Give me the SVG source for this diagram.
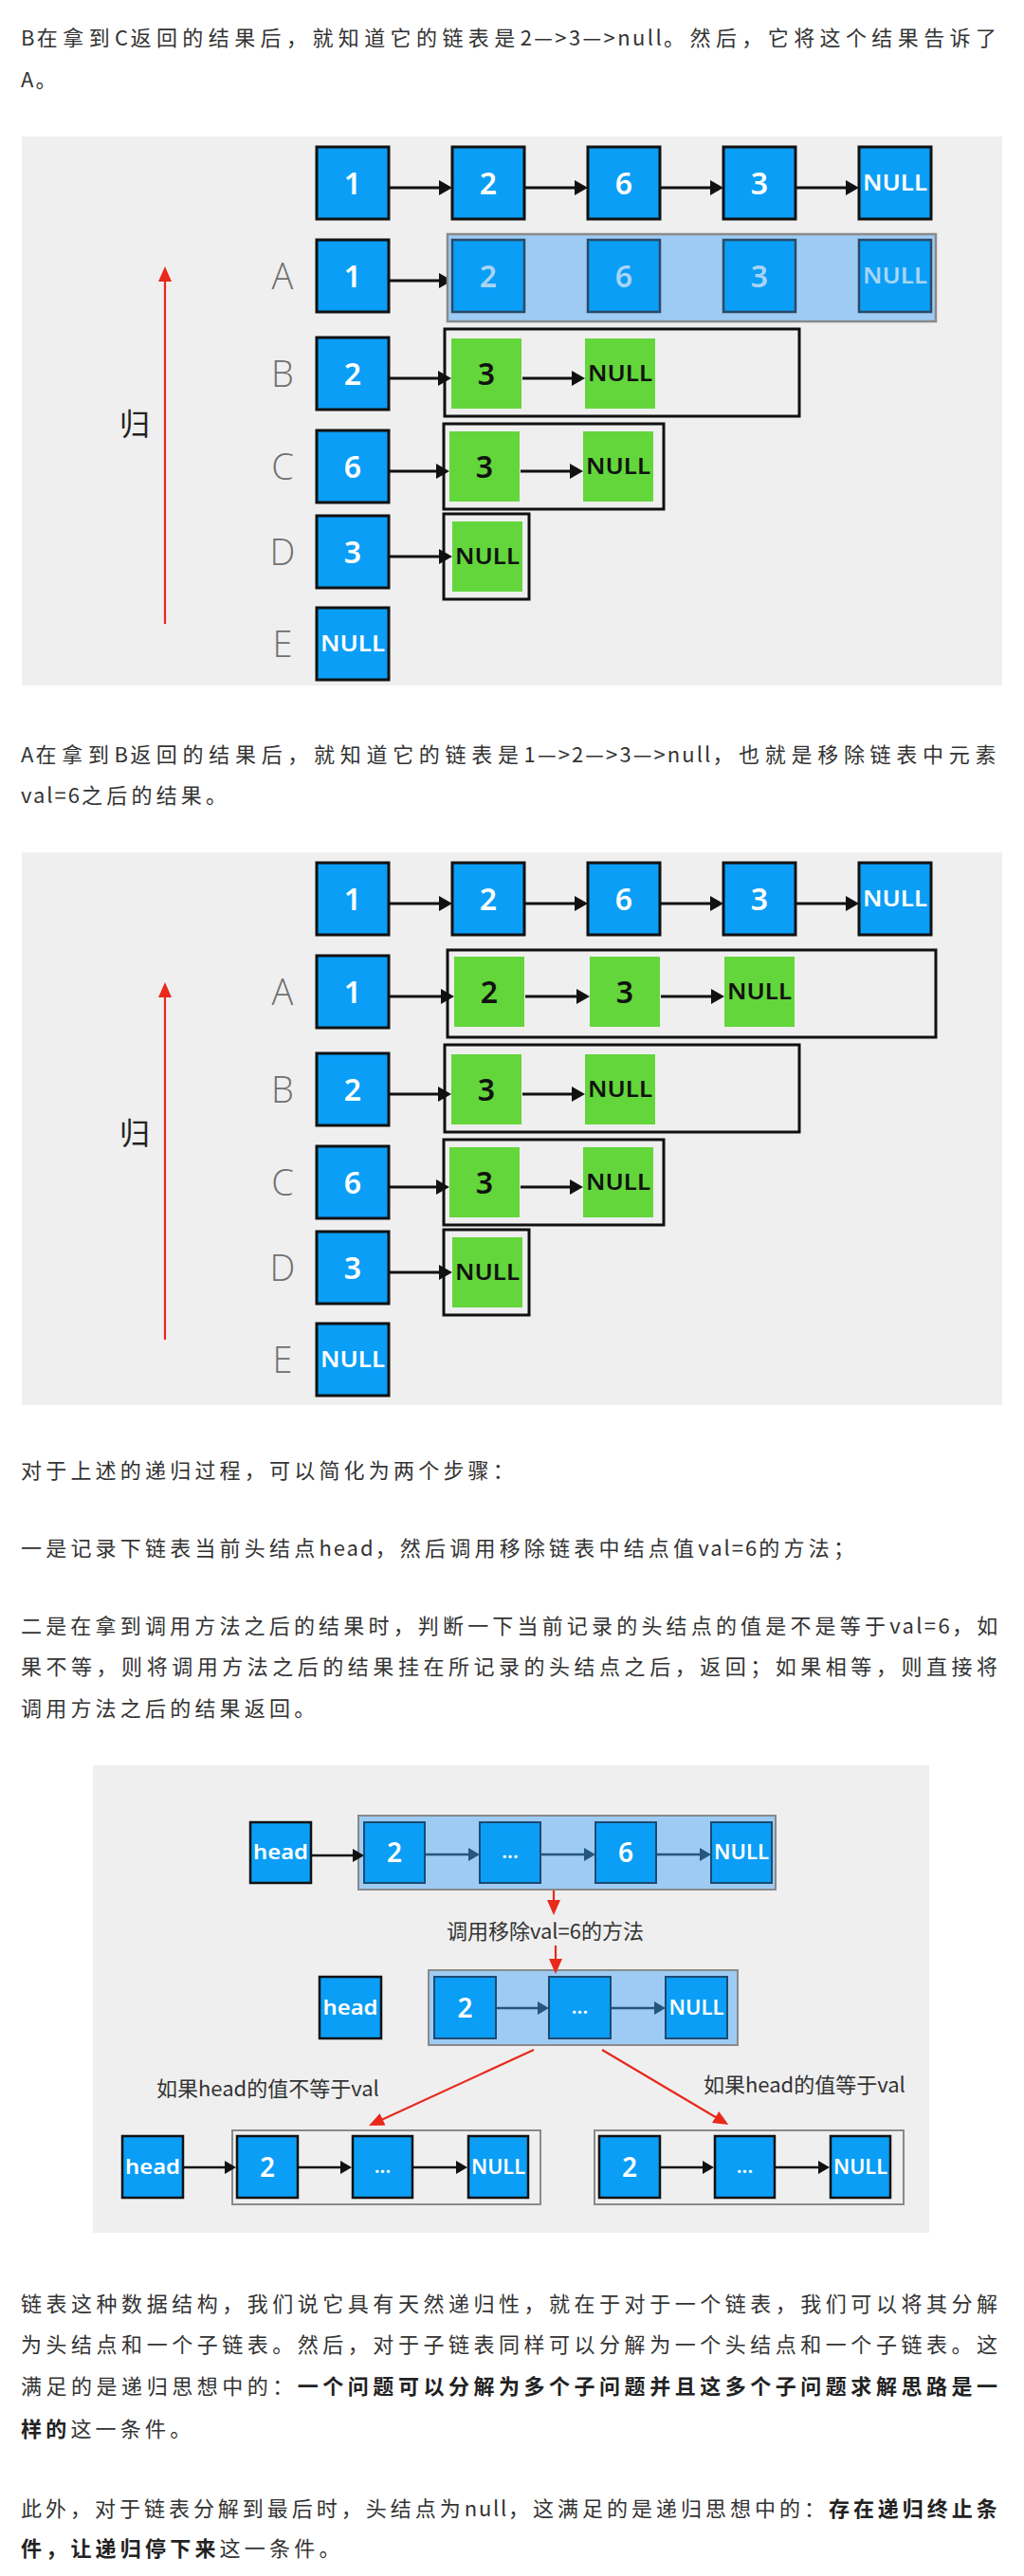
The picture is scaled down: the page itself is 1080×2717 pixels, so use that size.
<svg xmlns="http://www.w3.org/2000/svg" width="1080" height="2717" viewBox="0 0 1080 2717">
<defs>
<style>
.t{font-family:"Noto Sans CJK SC","Noto Sans",sans-serif;font-size:22px;fill:#333;letter-spacing:4.2px}
.l{letter-spacing:2px}
.b{font-weight:bold;fill:#222}
.bg{fill:#efefef}
.blue{fill:#0a9ef6;stroke:#111;stroke-width:3}
.green{fill:#63d63b}
.n{font-family:"Noto Sans","Open Sans",sans-serif;font-weight:600;font-size:32px;fill:#fff;text-anchor:middle}
.k{fill:#111}
.nl{font-size:24px}
.lbl{font-family:"Open Sans","Noto Sans",sans-serif;font-weight:300;font-size:38px;fill:#707070;text-anchor:middle}
.frame{fill:none;stroke:#111;stroke-width:3}
.sel{fill:#9ecbf3;stroke:#8a8a8a;stroke-width:2.5}
.fade{fill:#0a9ef6;stroke:#2b4a66;stroke-width:2.5}
.pale{fill:#a9d4f6}
.arr{stroke:#111;stroke-width:3;fill:none;marker-end:url(#ah)}
.red{stroke:#e8291c;stroke-width:2.2;fill:none;marker-end:url(#rh)}
.dk{stroke:#24567e;stroke-width:2.5;fill:none;marker-end:url(#dh)}
.ar3{stroke:#111;stroke-width:2.5;fill:none;marker-end:url(#ah3)}
.b3{fill:#0a9ef6;stroke:#111;stroke-width:2.5}
.b3f{fill:#0a9ef6;stroke:#1d4a70;stroke-width:2}
.sel3{fill:#9ecbf3;stroke:#8a8a8a;stroke-width:2}
.grp3{fill:none;stroke:#8a8a8a;stroke-width:2}
.n3{font-family:"Noto Sans","Open Sans",sans-serif;font-weight:600;font-size:28px;fill:#fff;text-anchor:middle}
.s3{font-size:21px}
.cap{font-family:"Noto Sans CJK SC","Noto Sans",sans-serif;font-size:22px;fill:#333}
.gui{font-family:"Noto Sans CJK SC",sans-serif;font-size:32px;fill:#222;text-anchor:middle}
</style>
<marker id="ah" markerUnits="userSpaceOnUse" markerWidth="16" markerHeight="18" refX="4" refY="8" orient="auto"><path d="M0,0 L14,8 L0,16 z" fill="#111"/></marker>
<marker id="ah3" markerUnits="userSpaceOnUse" markerWidth="14" markerHeight="16" refX="3" refY="7" orient="auto"><path d="M0,0 L12,7 L0,14 z" fill="#111"/></marker>
<marker id="dh" markerUnits="userSpaceOnUse" markerWidth="14" markerHeight="16" refX="3" refY="7" orient="auto"><path d="M0,0 L12,7 L0,14 z" fill="#24567e"/></marker>
<marker id="rh" markerUnits="userSpaceOnUse" markerWidth="18" markerHeight="16" refX="4" refY="7" orient="auto"><path d="M0,0 L16,7 L0,14 z" fill="#e8291c"/></marker>
</defs>
<rect width="1080" height="2717" fill="#ffffff"/>

<!-- Paragraph 1 -->
<g id="para1">
<text class="t" x="22" y="48" style="letter-spacing:5px" textLength="1034" lengthAdjust="spacing"><tspan class="l">B</tspan>在拿到<tspan class="l">C</tspan>返回的结果后，就知道它的链表是<tspan class="l">2—&gt;3—&gt;null</tspan>。然后，它将这个结果告诉了</text>
<text class="t" x="22" y="92"><tspan class="l">A</tspan>。</text>
</g>

<!-- Diagram 1 -->
<g id="diagram1">
<rect class="bg" x="23" y="144" width="1034" height="579"/>
<g id="d1-connectors">
<line class="arr" x1="411" y1="198" x2="467" y2="198"/>
<line class="arr" x1="554" y1="198" x2="610" y2="198"/>
<line class="arr" x1="697" y1="198" x2="753" y2="198"/>
<line class="arr" x1="840" y1="198" x2="896" y2="198"/>
<line class="arr" x1="411" y1="296" x2="467" y2="296"/>
<line class="arr" x1="411" y1="399" x2="466" y2="399"/>
<line class="arr" x1="551" y1="399" x2="607" y2="399"/>
<line class="arr" x1="411" y1="497" x2="464" y2="497"/>
<line class="arr" x1="549" y1="497" x2="605" y2="497"/>
<line class="arr" x1="411" y1="587" x2="467" y2="587"/>
<line class="red" x1="174" y1="658" x2="174" y2="293"/>
</g>
<text class="gui" x="142" y="459">归</text>
<g id="d1-top-1"><rect class="blue" x="334" y="155" width="76" height="76"/><text class="n" x="372" y="205">1</text></g>
<g id="d1-top-2"><rect class="blue" x="477" y="155" width="76" height="76"/><text class="n" x="515" y="205">2</text></g>
<g id="d1-top-3"><rect class="blue" x="620" y="155" width="76" height="76"/><text class="n" x="658" y="205">6</text></g>
<g id="d1-top-4"><rect class="blue" x="763" y="155" width="76" height="76"/><text class="n" x="801" y="205">3</text></g>
<g id="d1-top-5"><rect class="blue" x="906" y="155" width="76" height="76"/><text class="n nl" x="944" y="201" textLength="68" lengthAdjust="spacingAndGlyphs">NULL</text></g>

<g id="d1-A">
<text class="lbl" x="298" y="305">A</text>
<g id="d1-A-1"><rect class="blue" x="334" y="253" width="76" height="76"/><text class="n" x="372" y="303">1</text></g>
<g id="d1-A-rest">
<rect class="sel" x="472" y="247" width="515" height="92"/>
<rect class="fade" x="477" y="253" width="76" height="76"/><text class="n pale" x="515" y="303">2</text>
<rect class="fade" x="620" y="253" width="76" height="76"/><text class="n pale" x="658" y="303">6</text>
<rect class="fade" x="763" y="253" width="76" height="76"/><text class="n pale" x="801" y="303">3</text>
<rect class="fade" x="906" y="253" width="76" height="76"/><text class="n nl pale" x="944" y="299" textLength="68" lengthAdjust="spacingAndGlyphs">NULL</text>
</g>
</g>

<g id="d1-B">
<text class="lbl" x="298" y="408">B</text>
<g id="d1-B-1"><rect class="blue" x="334" y="356" width="76" height="76"/><text class="n" x="372" y="406">2</text></g>
<g id="d1-B-rest">
<rect class="frame" x="469" y="347" width="374" height="92"/>
<rect class="green" x="476" y="357" width="74" height="74"/><text class="n k" x="513" y="406">3</text>
<rect class="green" x="617" y="357" width="74" height="74"/><text class="n nl k" x="654" y="402" textLength="68" lengthAdjust="spacingAndGlyphs">NULL</text>
</g>
</g>

<g id="d1-C">
<text class="lbl" x="298" y="506">C</text>
<g id="d1-C-1"><rect class="blue" x="334" y="454" width="76" height="76"/><text class="n" x="372" y="504">6</text></g>
<g id="d1-C-rest">
<rect class="frame" x="468" y="447" width="232" height="90"/>
<rect class="green" x="474" y="455" width="74" height="74"/><text class="n k" x="511" y="504">3</text>
<rect class="green" x="615" y="455" width="74" height="74"/><text class="n nl k" x="652" y="500" textLength="68" lengthAdjust="spacingAndGlyphs">NULL</text>
</g>
</g>

<g id="d1-D">
<text class="lbl" x="298" y="596">D</text>
<g id="d1-D-1"><rect class="blue" x="334" y="544" width="76" height="76"/><text class="n" x="372" y="594">3</text></g>
<g id="d1-D-rest">
<rect class="frame" x="468" y="542" width="90" height="90"/>
<rect class="green" x="477" y="550" width="74" height="74"/><text class="n nl k" x="514" y="595" textLength="68" lengthAdjust="spacingAndGlyphs">NULL</text>
</g>
</g>

<g id="d1-E">
<text class="lbl" x="298" y="693">E</text>
<g id="d1-E-1"><rect class="blue" x="334" y="641" width="76" height="76"/><text class="n nl" x="372" y="687" textLength="68" lengthAdjust="spacingAndGlyphs">NULL</text></g>
</g>
</g>

<!-- Paragraph 2 -->
<g id="para2">
<text class="t" x="22" y="804" style="letter-spacing:5.6px" textLength="1034" lengthAdjust="spacing"><tspan class="l">A</tspan>在拿到<tspan class="l">B</tspan>返回的结果后，就知道它的链表是<tspan class="l">1—&gt;2—&gt;3—&gt;null</tspan>，也就是移除链表中元素</text>
<text class="t" x="22" y="847"><tspan class="l">val=6</tspan>之后的结果。</text>
</g>

<!-- Diagram 2 -->
<g id="diagram2" transform="translate(0,755)">
<rect class="bg" x="23" y="144" width="1034" height="583"/>
<g id="d2-connectors">
<line class="arr" x1="411" y1="198" x2="467" y2="198"/>
<line class="arr" x1="554" y1="198" x2="610" y2="198"/>
<line class="arr" x1="697" y1="198" x2="753" y2="198"/>
<line class="arr" x1="840" y1="198" x2="896" y2="198"/>
<line class="arr" x1="411" y1="296" x2="469" y2="296"/>
<line class="arr" x1="554" y1="296" x2="612" y2="296"/>
<line class="arr" x1="697" y1="296" x2="754" y2="296"/>
<line class="arr" x1="411" y1="399" x2="466" y2="399"/>
<line class="arr" x1="551" y1="399" x2="607" y2="399"/>
<line class="arr" x1="411" y1="497" x2="464" y2="497"/>
<line class="arr" x1="549" y1="497" x2="605" y2="497"/>
<line class="arr" x1="411" y1="587" x2="467" y2="587"/>
<line class="red" x1="174" y1="658" x2="174" y2="293"/>
</g>
<text class="gui" x="142" y="452">归</text>
<g id="d2-top-1"><rect class="blue" x="334" y="155" width="76" height="76"/><text class="n" x="372" y="205">1</text></g>
<g id="d2-top-2"><rect class="blue" x="477" y="155" width="76" height="76"/><text class="n" x="515" y="205">2</text></g>
<g id="d2-top-3"><rect class="blue" x="620" y="155" width="76" height="76"/><text class="n" x="658" y="205">6</text></g>
<g id="d2-top-4"><rect class="blue" x="763" y="155" width="76" height="76"/><text class="n" x="801" y="205">3</text></g>
<g id="d2-top-5"><rect class="blue" x="906" y="155" width="76" height="76"/><text class="n nl" x="944" y="201" textLength="68" lengthAdjust="spacingAndGlyphs">NULL</text></g>

<g id="d2-A">
<text class="lbl" x="298" y="305">A</text>
<g id="d2-A-1"><rect class="blue" x="334" y="253" width="76" height="76"/><text class="n" x="372" y="303">1</text></g>
<g id="d2-A-rest">
<rect class="frame" x="472" y="247" width="515" height="92"/>
<rect class="green" x="479" y="254" width="74" height="74"/><text class="n k" x="516" y="303">2</text>
<rect class="green" x="622" y="254" width="74" height="74"/><text class="n k" x="659" y="303">3</text>
<rect class="green" x="764" y="254" width="74" height="74"/><text class="n nl k" x="801" y="299" textLength="68" lengthAdjust="spacingAndGlyphs">NULL</text>
</g>
</g>

<g id="d2-B">
<text class="lbl" x="298" y="408">B</text>
<g id="d2-B-1"><rect class="blue" x="334" y="356" width="76" height="76"/><text class="n" x="372" y="406">2</text></g>
<g id="d2-B-rest">
<rect class="frame" x="469" y="347" width="374" height="92"/>
<rect class="green" x="476" y="357" width="74" height="74"/><text class="n k" x="513" y="406">3</text>
<rect class="green" x="617" y="357" width="74" height="74"/><text class="n nl k" x="654" y="402" textLength="68" lengthAdjust="spacingAndGlyphs">NULL</text>
</g>
</g>

<g id="d2-C">
<text class="lbl" x="298" y="506">C</text>
<g id="d2-C-1"><rect class="blue" x="334" y="454" width="76" height="76"/><text class="n" x="372" y="504">6</text></g>
<g id="d2-C-rest">
<rect class="frame" x="468" y="447" width="232" height="90"/>
<rect class="green" x="474" y="455" width="74" height="74"/><text class="n k" x="511" y="504">3</text>
<rect class="green" x="615" y="455" width="74" height="74"/><text class="n nl k" x="652" y="500" textLength="68" lengthAdjust="spacingAndGlyphs">NULL</text>
</g>
</g>

<g id="d2-D">
<text class="lbl" x="298" y="596">D</text>
<g id="d2-D-1"><rect class="blue" x="334" y="544" width="76" height="76"/><text class="n" x="372" y="594">3</text></g>
<g id="d2-D-rest">
<rect class="frame" x="468" y="542" width="90" height="90"/>
<rect class="green" x="477" y="550" width="74" height="74"/><text class="n nl k" x="514" y="595" textLength="68" lengthAdjust="spacingAndGlyphs">NULL</text>
</g>
</g>

<g id="d2-E">
<text class="lbl" x="298" y="693">E</text>
<g id="d2-E-1"><rect class="blue" x="334" y="641" width="76" height="76"/><text class="n nl" x="372" y="687" textLength="68" lengthAdjust="spacingAndGlyphs">NULL</text></g>
</g>
</g>

<!-- Paragraph 3 -->
<g id="para3">
<text class="t" x="22" y="1559">对于上述的递归过程，可以简化为两个步骤：</text>
<text class="t" x="22" y="1641">一是记录下链表当前头结点<tspan class="l">head</tspan>，然后调用移除链表中结点值<tspan class="l">val=6</tspan>的方法；</text>
<text class="t" x="22" y="1723" style="letter-spacing:3.8px" textLength="1034" lengthAdjust="spacing">二是在拿到调用方法之后的结果时，判断一下当前记录的头结点的值是不是等于<tspan class="l">val=6</tspan>，如</text>
<text class="t" x="22" y="1766" style="letter-spacing:4px" textLength="1034" lengthAdjust="spacing">果不等，则将调用方法之后的结果挂在所记录的头结点之后，返回；如果相等，则直接将</text>
<text class="t" x="22" y="1810">调用方法之后的结果返回。</text>
</g>

<!-- Diagram 3 -->
<g id="diagram3">
<rect class="bg" x="98" y="1862" width="882" height="493"/>
<rect class="sel3" x="378" y="1915" width="440" height="78"/>
<rect class="sel3" x="452" y="2078" width="326" height="79"/>
<rect class="grp3" x="245" y="2247" width="325" height="78"/>
<rect class="grp3" x="627" y="2247" width="326" height="78"/>
<g id="d3-connectors">
<line class="ar3" x1="329" y1="1957" x2="375" y2="1957"/>
<line class="dk" x1="449" y1="1956" x2="497" y2="1956"/>
<line class="dk" x1="571" y1="1956" x2="619" y2="1956"/>
<line class="dk" x1="693" y1="1956" x2="741" y2="1956"/>
<line class="dk" x1="523" y1="2118" x2="570" y2="2118"/>
<line class="dk" x1="644" y1="2118" x2="693" y2="2118"/>
<line class="red" x1="584" y1="1994" x2="584" y2="2008"/>
<line class="red" x1="586" y1="2052" x2="586" y2="2070"/>
<line class="red" x1="563" y1="2162" x2="400" y2="2237"/>
<line class="red" x1="635" y1="2162" x2="758" y2="2235"/>
<line class="ar3" x1="194" y1="2286" x2="240" y2="2286"/>
<line class="ar3" x1="315" y1="2286" x2="362" y2="2286"/>
<line class="ar3" x1="436" y1="2286" x2="484" y2="2286"/>
<line class="ar3" x1="697" y1="2286" x2="744" y2="2286"/>
<line class="ar3" x1="818" y1="2286" x2="866" y2="2286"/>
</g>
<text class="cap" x="575" y="2045" text-anchor="middle">调用移除val=6的方法</text>
<text class="cap" x="165" y="2211">如果head的值不等于val</text>
<text class="cap" x="742" y="2207">如果head的值等于val</text>

<g id="d3-r1-head"><rect class="b3" x="264" y="1922" width="64" height="64"/><text class="n3 s3" x="296" y="1961" textLength="58" lengthAdjust="spacingAndGlyphs">head</text></g>
<g id="d3-r1-2"><rect class="b3f" x="384" y="1922" width="64" height="64"/><text class="n3 pale" x="416" y="1964">2</text></g>
<g id="d3-r1-dots"><rect class="b3f" x="506" y="1922" width="64" height="64"/><text class="n3 s3 pale" x="538" y="1960">...</text></g>
<g id="d3-r1-6"><rect class="b3f" x="628" y="1922" width="64" height="64"/><text class="n3 pale" x="660" y="1964">6</text></g>
<g id="d3-r1-null"><rect class="b3f" x="750" y="1922" width="64" height="64"/><text class="n3 s3 pale" x="782" y="1961" textLength="58" lengthAdjust="spacingAndGlyphs">NULL</text></g>

<g id="d3-r2-head"><rect class="b3" x="337" y="2085" width="65" height="65"/><text class="n3 s3" x="369.5" y="2125" textLength="58" lengthAdjust="spacingAndGlyphs">head</text></g>
<g id="d3-r2-2"><rect class="b3f" x="458" y="2085" width="65" height="65"/><text class="n3 pale" x="490.5" y="2128">2</text></g>
<g id="d3-r2-dots"><rect class="b3f" x="579" y="2085" width="65" height="65"/><text class="n3 s3 pale" x="611.5" y="2124">...</text></g>
<g id="d3-r2-null"><rect class="b3f" x="702" y="2085" width="65" height="65"/><text class="n3 s3 pale" x="734.5" y="2125" textLength="58" lengthAdjust="spacingAndGlyphs">NULL</text></g>

<g id="d3-r3-head"><rect class="b3" x="129" y="2253" width="64" height="65"/><text class="n3 s3" x="161" y="2293" textLength="58" lengthAdjust="spacingAndGlyphs">head</text></g>
<g id="d3-r3a-2"><rect class="b3" x="250" y="2253" width="64" height="65"/><text class="n3" x="282" y="2296">2</text></g>
<g id="d3-r3a-dots"><rect class="b3" x="372" y="2253" width="63" height="65"/><text class="n3 s3" x="403.5" y="2292">...</text></g>
<g id="d3-r3a-null"><rect class="b3" x="494" y="2253" width="63" height="65"/><text class="n3 s3" x="525.5" y="2293" textLength="57" lengthAdjust="spacingAndGlyphs">NULL</text></g>
<g id="d3-r3b-2"><rect class="b3" x="632" y="2253" width="64" height="65"/><text class="n3" x="664" y="2296">2</text></g>
<g id="d3-r3b-dots"><rect class="b3" x="754" y="2253" width="63" height="65"/><text class="n3 s3" x="785.5" y="2292">...</text></g>
<g id="d3-r3b-null"><rect class="b3" x="876" y="2253" width="63" height="65"/><text class="n3 s3" x="907.5" y="2293" textLength="57" lengthAdjust="spacingAndGlyphs">NULL</text></g>
</g>

<!-- Paragraph 4 -->
<g id="para4">
<text class="t" x="22" y="2438" style="letter-spacing:4px" textLength="1034" lengthAdjust="spacing">链表这种数据结构，我们说它具有天然递归性，就在于对于一个链表，我们可以将其分解</text>
<text class="t" x="22" y="2481" style="letter-spacing:4px" textLength="1034" lengthAdjust="spacing">为头结点和一个子链表。然后，对于子链表同样可以分解为一个头结点和一个子链表。这</text>
<text class="t" x="22" y="2525" style="letter-spacing:4px" textLength="1034" lengthAdjust="spacing">满足的是递归思想中的：<tspan class="b">一个问题可以分解为多个子问题并且这多个子问题求解思路是一</tspan></text>
<text class="t" x="22" y="2570"><tspan class="b">样的</tspan>这一条件。</text>
</g>

<!-- Paragraph 5 -->
<g id="para5">
<text class="t" x="22" y="2654" style="letter-spacing:4.2px" textLength="1034" lengthAdjust="spacing">此外，对于链表分解到最后时，头结点为<tspan class="l">null</tspan>，这满足的是递归思想中的：<tspan class="b">存在递归终止条</tspan></text>
<text class="t" x="22" y="2696"><tspan class="b">件，让递归停下来</tspan>这一条件。</text>
</g>
</svg>
